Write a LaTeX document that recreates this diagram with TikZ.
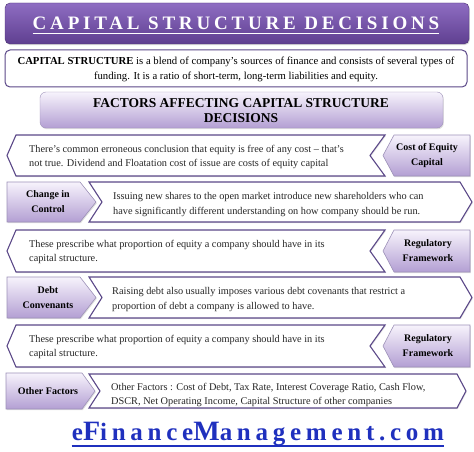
\documentclass[tikz,border=0pt]{standalone}
\usepackage{fontspec}
\setmainfont{Liberation Serif}
\newfontfamily\titlefont[LetterSpace=20]{Liberation Serif}
\newfontfamily\sitefont[LetterSpace=19]{Liberation Serif}
\usetikzlibrary{shadows}
\definecolor{titletop}{HTML}{8E6DC2}
\definecolor{titlebot}{HTML}{5F3F90}
\definecolor{boxedge}{HTML}{5B4888}
\definecolor{tagtop}{HTML}{F7F3FC}
\definecolor{tagbot}{HTML}{B39FD3}
\definecolor{sitecolor}{HTML}{1F30BE}

\begin{document}
\begin{tikzpicture}[x=1pt,y=-1pt,
    banner/.style={draw=titlebot!80!black, rounded corners=5pt, top color=titletop, bottom color=titlebot,
        drop shadow={opacity=0.3, shadow xshift=0.8pt, shadow yshift=-1.2pt}},
    infobox/.style={draw=boxedge, line width=1pt, rounded corners=5pt, fill=white},
    factorbox/.style={draw=boxedge!60, rounded corners=6pt, top color=tagtop, bottom color=tagbot,
        drop shadow={opacity=0.25, shadow xshift=0.8pt, shadow yshift=-1.2pt}},
    tagbox/.style={draw=boxedge!60, line width=0.6pt, top color=tagtop, bottom color=tagbot,
        drop shadow={opacity=0.25, shadow xshift=0.8pt, shadow yshift=-1.2pt}},
    arrowbox/.style={draw=boxedge, line width=1.1pt, fill=white,
        drop shadow={opacity=0.2, shadow xshift=0.8pt, shadow yshift=-1.2pt}},
    bodytext/.style={font=\fontsize{10.3}{14.5}\selectfont, align=left, anchor=west, inner sep=0pt, text=black!85},
    tagtext/.style={font=\bfseries\fontsize{10}{15}\selectfont, align=center, inner sep=0pt}]
\useasboundingbox (0,0) rectangle (474,452);

% heading
\draw[banner] (5,3) rectangle (469,44);
\node[text=white, font=\titlefont\bfseries\fontsize{19}{19}\selectfont, inner sep=0pt, anchor=base] (title) at (236,29.5) {CAPITAL STRUCTURE DECISIONS};
\draw[white, line width=0.8pt] ([yshift=-3.5pt]title.base west) -- ([yshift=-3.5pt]title.base east);

\draw[infobox] (5,50) rectangle (467,87);
\node[font=\fontsize{10.7}{15}\selectfont, align=center, inner sep=0pt] (define) at (236,69.5)
    {\textbf{CAPITAL STRUCTURE} is a blend of company’s sources of finance and consists of several types of\\
     funding. It is a ratio of short-term, long-term liabilities and equity.};

\draw[factorbox] (40,92) rectangle (443,128);
\node[font=\bfseries\fontsize{13.5}{15.5}\selectfont, align=center, inner sep=0pt] (factors) at (241,110.5)
    {FACTORS AFFECTING CAPITAL STRUCTURE\\DECISIONS};

% row 1
\draw[arrowbox] (7,155.5) -- (16,135) -- (385,135) -- (370,155.5) -- (385,176) -- (16,176) -- cycle;
\draw[tagbox] (383,155.5) -- (394,135) -- (470,135) -- (470,176) -- (394,176) -- cycle;
\node[bodytext] (equitytext) at (29,157) {There’s common erroneous conclusion that equity is free of any cost – that’s\\
    not true. Dividend and Floatation cost of issue are costs of equity capital};
\node[tagtext] (equity) at (427,155.5) {Cost of Equity\\Capital};

% row 2
\draw[tagbox] (7,182) -- (80,182) -- (96,202) -- (80,222) -- (7,222) -- cycle;
\draw[arrowbox] (89,182) -- (460,182) -- (472,202) -- (460,222) -- (89,222) -- (102,202) -- cycle;
\node[tagtext] (control) at (48,202) {Change in\\Control};
\node[bodytext] (controltext) at (113,204.5) {Issuing new shares to the open market introduce new shareholders who can\\
    have significantly different understanding on how company should be run.};

% row 3
\draw[arrowbox] (7,251) -- (16,230) -- (385,230) -- (370,251) -- (385,272) -- (16,272) -- cycle;
\draw[tagbox] (383,251) -- (394,230) -- (470,230) -- (470,272) -- (394,272) -- cycle;
\node[bodytext] (regtext) at (29,252) {These prescribe what proportion of equity a company should have in its\\capital structure.};
\node[tagtext] (reg) at (428,251) {Regulatory\\Framework};

% row 4
\draw[tagbox] (7,277) -- (80,277) -- (96,297.5) -- (80,318) -- (7,318) -- cycle;
\draw[arrowbox] (89,277) -- (460,277) -- (472,297.5) -- (460,318) -- (89,318) -- (102,297.5) -- cycle;
\node[tagtext] (debt) at (48,297.5) {Debt\\Convenants};
\node[bodytext] (debttext) at (112,299.5) {Raising debt also usually imposes various debt covenants that restrict a\\
    proportion of debt a company is allowed to have.};

% row 5
\draw[arrowbox] (7,346) -- (16,325) -- (385,325) -- (370,346) -- (385,367) -- (16,367) -- cycle;
\draw[tagbox] (383,346) -- (394,325) -- (470,325) -- (470,367) -- (394,367) -- cycle;
\node[bodytext] (regtexttwo) at (29,347) {These prescribe what proportion of equity a company should have in its\\capital structure.};
\node[tagtext] (regtwo) at (428,346) {Regulatory\\Framework};

% row 6
\draw[tagbox] (6,373) -- (82,373) -- (95,391) -- (82,409) -- (6,409) -- cycle;
\draw[arrowbox] (89,374) -- (457,374) -- (466,391) -- (457,408) -- (89,408) -- (100,391) -- cycle;
\node[tagtext] (other) at (48,391) {Other Factors};
\node[bodytext] (othertext) at (111,395) {Other Factors : Cost of Debt, Tax Rate, Interest Coverage Ratio, Cash Flow,\\
    DSCR, Net Operating Income, Capital Structure of other companies};

% site name
\node[text=sitecolor, font=\sitefont\bfseries, inner sep=0pt, anchor=base] (site) at (258,440)
    {\fontsize{25}{25}\selectfont e\fontsize{28}{28}\selectfont F\fontsize{25}{25}\selectfont inance\fontsize{28}{28}\selectfont M\fontsize{25}{25}\selectfont anagement.com};
\draw[sitecolor, line width=1.2pt] ([yshift=-6pt]site.base west) -- ([yshift=-6pt]site.base east);
\end{tikzpicture}
\end{document}
